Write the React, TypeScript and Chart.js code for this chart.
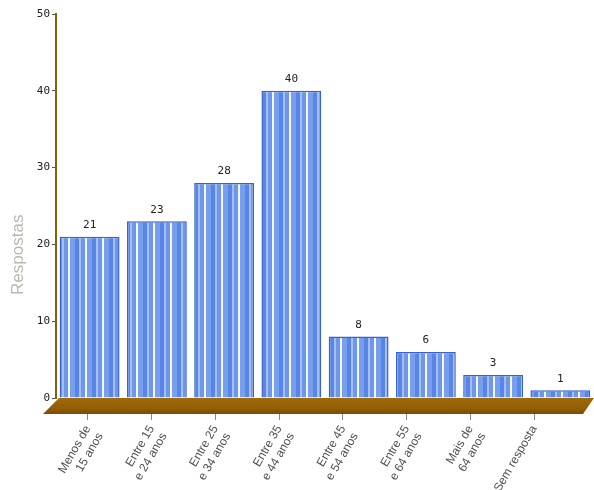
import React, { useEffect, useRef } from "react";
import { Chart, registerables } from "chart.js";

Chart.register(...registerables);

const categories: (string | string[])[] = [
  ["Menos de", "15 anos"],
  ["Entre 15", "e 24 anos"],
  ["Entre 25", "e 34 anos"],
  ["Entre 35", "e 44 anos"],
  ["Entre 45", "e 54 anos"],
  ["Entre 55", "e 64 anos"],
  ["Mais de", "64 anos"],
  "Sem resposta",
];
const respostas = [21, 23, 28, 40, 8, 6, 3, 1];
const yTitle = "Respostas";
const yMax = 50;
const yStep = 10;

function makePattern(): CanvasPattern | string {
  const c = document.createElement("canvas");
  c.width = 17;
  c.height = 4;
  const g = c.getContext("2d");
  if (!g) return "#7ea3ee";
  const stripes: [number, number, string][] = [
    [0, 2, "#f4f7fe"],
    [2, 5, "#789fee"],
    [7, 4, "#5886e6"],
    [11, 2, "#a5bef4"],
    [13, 4, "#6e97ea"],
  ];
  stripes.forEach(([x, w, col]) => {
    g.fillStyle = col;
    g.fillRect(x, 0, w, 4);
  });
  const p = g.createPattern(c, "repeat");
  return p || "#7ea3ee";
}

// perspective: the front label row is narrower than the back row of bars
const frontRatio = 0.948;

const perspectivePlugin = {
  id: "perspective",
  afterLayout(chart: any) {
    const s = chart.scales.xl;
    const { left, right } = chart.chartArea;
    s.left = left;
    s.right = left + (right - left) * frontRatio;
    s.width = s.right - s.left;
    s.configure();
  },
};

const floorPlugin = {
  id: "floor",
  afterDatasetsDraw(chart: any) {
    const { ctx, chartArea } = chart;
    const { left, right, bottom } = chartArea;
    ctx.save();
    const grad = ctx.createLinearGradient(0, bottom, 0, bottom + 16);
    grad.addColorStop(0, "#a06a08");
    grad.addColorStop(0.6, "#946005");
    grad.addColorStop(1, "#7a4c00");
    ctx.fillStyle = grad;
    ctx.beginPath();
    ctx.moveTo(left + 3, bottom);
    ctx.lineTo(right, bottom);
    ctx.lineTo(right - 11, bottom + 16);
    ctx.lineTo(left - 13, bottom + 16);
    ctx.closePath();
    ctx.fill();
    ctx.restore();
  },
};

const labelPlugin = {
  id: "valueLabels",
  afterDatasetsDraw(chart: any) {
    const { ctx } = chart;
    const meta = chart.getDatasetMeta(0);
    ctx.save();
    ctx.font = "11px 'DejaVu Sans Mono'";
    ctx.fillStyle = "#222";
    ctx.textAlign = "center";
    ctx.textBaseline = "bottom";
    meta.data.forEach((bar: any, i: number) => {
      ctx.fillText(String(respostas[i]), bar.x, bar.y - 6);
    });
    ctx.restore();
  },
};

const titlePlugin = {
  id: "yTitle",
  afterDraw(chart: any) {
    const { ctx, chartArea } = chart;
    ctx.save();
    ctx.translate(18, chartArea.top + (chartArea.bottom - chartArea.top) * 0.627);
    ctx.rotate(-Math.PI / 2);
    ctx.font = "17px 'Liberation Sans'";
    ctx.fillStyle = "#b6baae";
    ctx.textAlign = "center";
    ctx.textBaseline = "middle";
    ctx.fillText(yTitle, 0, 0);
    ctx.restore();
  },
};

export default function App() {
  const ref = useRef<HTMLCanvasElement>(null);
  useEffect(() => {
    if (!ref.current) return;
    const chart = new Chart(ref.current, {
      type: "bar",
      data: {
        labels: categories,
        datasets: [
          {
            data: respostas,
            backgroundColor: makePattern() as any,
            borderColor: "#3a63c9",
            borderWidth: 1.5,
            barPercentage: 0.89,
            categoryPercentage: 1,
          },
        ],
      },
      options: {
        responsive: false,
        animation: false,
        devicePixelRatio: 1,
        layout: { padding: { top: 14, right: 0, left: 2, bottom: 0 } },
        plugins: {
          legend: { display: false },
          tooltip: { enabled: false },
          title: { display: false },
        },
        scales: {
          x: {
            display: false,
          },
          xl: {
            type: "category",
            position: "bottom",
            border: { display: false },
            grid: {
              offset: false,
              drawOnChartArea: false,
              tickLength: 22,
              color: "#8a8a8a",
              lineWidth: 1,
            },
            ticks: {
              minRotation: 60,
              maxRotation: 60,
              color: "#505050",
              font: { family: "'Liberation Sans'", size: 12 },
              padding: 3,
            },
            afterFit: (s: any) => {
              s.height = 92;
            },
          },
          y: {
            min: 0,
            max: yMax,
            border: { display: true, color: "#8b5f06", width: 2 },
            grid: {
              drawOnChartArea: false,
              tickLength: 4,
              color: "#555",
            },
            ticks: {
              stepSize: yStep,
              color: "#222",
              font: { family: "'DejaVu Sans Mono'", size: 11 },
              padding: 2,
            },
            afterFit: (s: any) => {
              s.width = 54;
            },
          },
        },
      },
      plugins: [perspectivePlugin, floorPlugin, labelPlugin, titlePlugin],
    });
    return () => chart.destroy();
  }, []);
  return (
    <div style={{ position: "absolute", left: 0, top: 0, width: 594, height: 490, background: "#fff" }}>
      <canvas ref={ref} width={594} height={490} />
    </div>
  );
}
